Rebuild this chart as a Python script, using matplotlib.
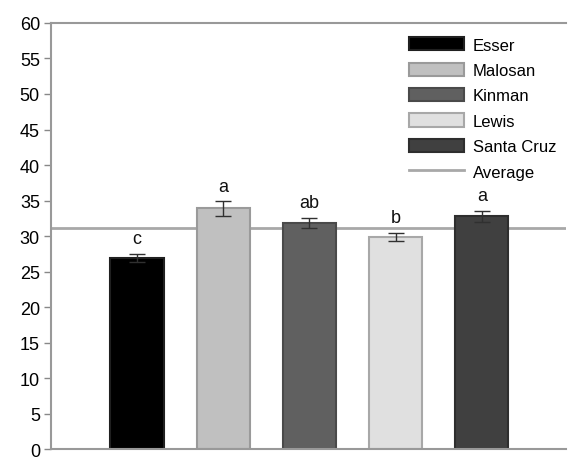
import matplotlib
matplotlib.use("Agg")
import matplotlib.pyplot as plt
from matplotlib.patches import Patch
from matplotlib.lines import Line2D

plt.rcParams['font.family'] = ['Liberation Sans', 'DejaVu Sans']

sites = ["Esser", "Malosan", "Kinman", "Lewis", "Santa Cruz"]
means = [26.9, 33.9, 31.9, 29.9, 32.8]
errors = [0.6, 1.0, 0.7, 0.6, 0.8]
letters = ["c", "a", "ab", "b", "a"]
average = 31.1

fills = ["#000000", "#c0c0c0", "#606060", "#e0e0e0", "#404040"]
edges = ["#202020", "#9a9a9a", "#4a4a4a", "#a8a8a8", "#2e2e2e"]

fig = plt.figure(figsize=(5.68, 4.6), dpi=100)
ax = fig.add_axes([0.0898, 0.021, 0.907, 0.927])

x = list(range(len(sites)))
ax.axhline(average, color="#a8a8a8", lw=2, zorder=1)
ax.bar(x, means, width=0.62, color=fills, edgecolor=edges, linewidth=1.5, zorder=2)
ax.errorbar(x, means, yerr=errors, fmt="none", ecolor="#303030", elinewidth=1,
            capsize=6, capthick=1, zorder=3)
for xi, m, e, t in zip(x, means, errors, letters):
    ax.text(xi, m + e + 2.1, t, ha="center", va="center", fontsize=13, color="#111111")

ax.set_xlim(-1, 4.98)
ax.set_ylim(0, 60)
ax.set_yticks(range(0, 61, 5))
ax.set_xticks([])
ax.tick_params(axis="y", direction="out", length=5, width=1, color="#888888",
               labelsize=13, pad=3)
for s in ["left", "bottom", "top"]:
    ax.spines[s].set_color("#999999")
    ax.spines[s].set_linewidth(1.5)
ax.spines["right"].set_visible(False)

handles = [Patch(facecolor=f, edgecolor=e, linewidth=1.5) for f, e in zip(fills, edges)]
handles.append(Line2D([0], [0], color="#a8a8a8", lw=2))
ax.legend(handles, sites + ["Average"], loc="upper right", frameon=False, fontsize=12,
          handlelength=3.3, handleheight=0.85, handletextpad=0.5, labelspacing=0.6,
          bbox_to_anchor=(1.0, 0.99), borderaxespad=0.2)

fig.savefig("out.png", dpi=100)
